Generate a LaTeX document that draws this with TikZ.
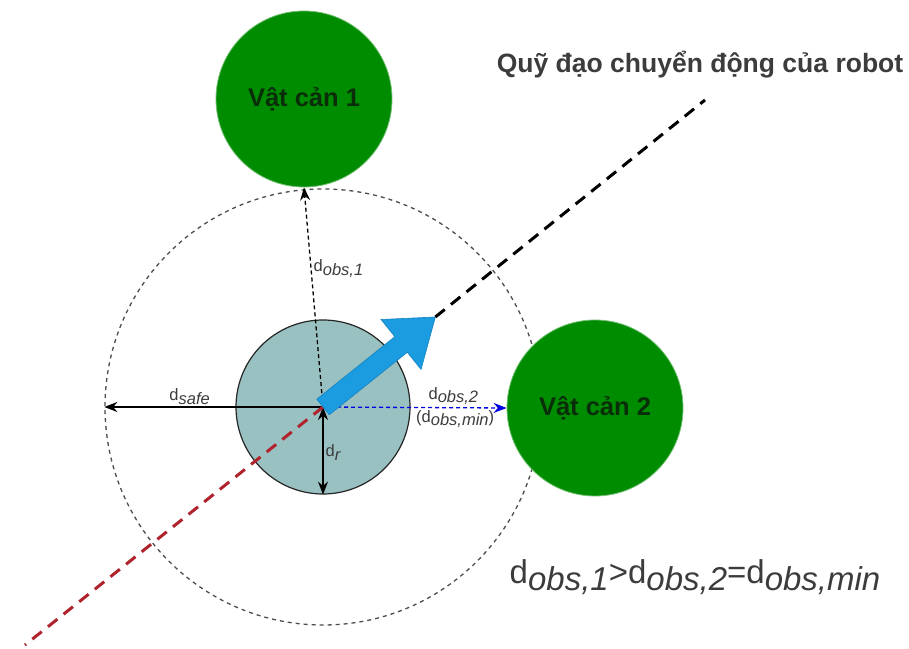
\documentclass[tikz,border=0pt]{standalone}
\usepackage{fontspec}
\setmainfont{Liberation Sans}
\usepackage{graphicx}
\usepackage{tikz}
\usetikzlibrary{arrows.meta, positioning, calc}
\definecolor{obsgreen}{RGB}{0,140,0}
\definecolor{obstext}{RGB}{10,45,10}
\definecolor{robotfill}{RGB}{154,193,193}
\definecolor{headblue}{RGB}{27,155,224}
\definecolor{distblue}{RGB}{0,0,230}
\definecolor{trajred}{RGB}{175,35,45}
\definecolor{labelgray}{RGB}{60,60,60}
\newcommand{\dlbl}[1]{d\raisebox{-0.4ex}{\itshape #1}}
\tikzset{
    obstacle/.style={circle, fill=obsgreen, draw=obsgreen!55!white, line width=0.8pt, minimum size=176pt, inner sep=0pt, text=obstext, font=\fontsize{25.5}{30}\selectfont\bfseries},
    safezone/.style={circle, draw=black!70, line width=1.3pt, dash pattern=on 4pt off 4pt, minimum size=436pt, inner sep=0pt},
    robotbody/.style={circle, draw=black!85, fill=robotfill, line width=1.2pt, minimum size=174pt, inner sep=0pt},
    dimlabel/.style={text=labelgray, font=\fontsize{16.5}{19}\selectfont, inner sep=2pt},
    dimarrow/.style={line width=1.3pt, -{Stealth[length=13pt, width=10pt]}},
    trajectory/.style={line width=3pt, dash pattern=on 12pt off 8pt}
}

\begin{document}
\begin{tikzpicture}[x=1pt, y=1pt]
    \useasboundingbox (0,0) rectangle (909,648);

    \node (safe) [safezone] at (323,241) {};
    \node (obs1) [obstacle] at (304,549) {Vật cản 1};
    \node (obs2) [obstacle] at (595,240) {Vật cản 2};
    \node (robot) [robotbody] at (323,241) {};

    \coordinate (trajend) at (705,548);
    \coordinate (trajstart) at (25,3);

    \node (title) [text=labelgray, font=\fontsize{26.5}{31}\selectfont\bfseries] at (700,583) {Quỹ đạo chuyển động của robot};
    \node (relation) [text=labelgray, font=\fontsize{33}{38}\selectfont] at (695,71) {\dlbl{obs,1}>\dlbl{obs,2}=\dlbl{obs,min}};

    % distances
    \draw [dimarrow] (robot.center) -- node[dimlabel, above, pos=0.61] {\dlbl{safe}} (safe.west);
    \draw [dimarrow, dash pattern=on 4pt off 3pt] (robot.center) -- node[dimlabel, right, pos=0.63] {\dlbl{obs,1}} (obs1.south);
    \draw [dimarrow, distblue, dash pattern=on 4pt off 3pt] (robot.center) -- node[dimlabel, above, pos=0.71] {\dlbl{obs,2}} node[dimlabel, below, pos=0.72] {(\dlbl{obs,min})} (obs2.west);
    \draw [dimarrow, {Stealth[length=13pt, width=10pt]}-{Stealth[length=13pt, width=10pt]}] (robot.center) -- node[dimlabel, right, pos=0.52] {\dlbl{r}} (robot.south);

    % trajectory and heading
    \draw [trajectory, trajred] (robot.center) -- (trajstart);
    \begin{scope}[shift={(robot.center)}, rotate=38.7]
        \fill [headblue, draw=headblue!85!black, line width=0.6pt] (0,-10) -- (100,-10) -- (100,-32) -- (144,0) -- (100,32) -- (100,10) -- (0,10) -- cycle;
        \coordinate (headtip) at (144,0);
    \end{scope}
    \draw [trajectory, black] (headtip) -- (trajend);
\end{tikzpicture}
\end{document}
